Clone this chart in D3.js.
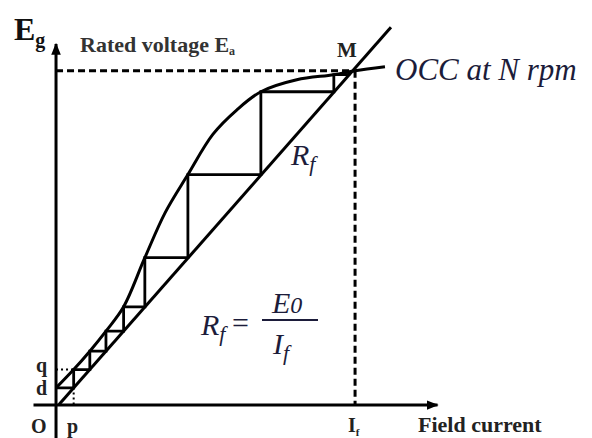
<!DOCTYPE html>
<html>
<head>
<meta charset="utf-8">
<script src="https://cdn.jsdelivr.net/npm/d3@7"></script>
<style>
  body { margin: 0; background: #fff; }
  svg { display: block; }
  text { font-family: "Liberation Serif", "DejaVu Serif", serif; }
</style>
</head>
<body>
<div id="chart"></div>
<script>
// open circuit characteristic (field current, generated voltage)
const occCurrent = [0, 0.59, 1.13, 1.67, 2.26, 2.97, 3.65, 4.41, 5.25, 6.05, 6.85, 8.05, 9.29, 10.0, 11.0];
const occVoltage = [0.50, 1.05, 1.60, 2.20, 2.93, 4.40, 5.75, 6.89, 8.10, 8.83, 9.37, 9.73, 9.88, 10.0, 10.12];
// field resistance line
const rfCurrent = [0.10, 11.20];
const rfVoltage = [0, 11.30];
// build-up staircase
const stepLevels = [0.50, 1.05, 1.60, 2.20, 2.93, 4.40, 6.89, 9.37, 9.88, 9.97];
const stepCurrents = [0.59, 1.13, 1.67, 2.26, 2.97, 4.41, 6.85, 9.29, 9.79];
const ratedVoltage = 10;
const ratedCurrent = 10;

const width = 592, height = 438;
const ink = "#1c1c3a";
const svg = d3.select("#chart").append("svg")
  .attr("width", width)
  .attr("height", height);

const x = d3.scaleLinear().domain([-0.77, 12.74]).range([33, 437]);
const y = d3.scaleLinear().domain([-1.0, 10.8]).range([438, 44]);

svg.append("defs").append("marker")
  .attr("id", "arrow")
  .attr("viewBox", "0 0 10 10")
  .attr("refX", 9).attr("refY", 5)
  .attr("markerWidth", 4).attr("markerHeight", 4)
  .attr("markerUnits", "strokeWidth")
  .attr("orient", "auto")
  .append("path")
  .attr("d", "M0,1L10,5L0,9z")
  .attr("fill", "#000");

// axes
const xAxis = svg.append("g")
  .attr("transform", `translate(0,${y(0)})`)
  .call(d3.axisBottom(x).tickValues([]).tickSizeOuter(0));
const yAxis = svg.append("g")
  .attr("transform", `translate(${x(0)},0)`)
  .call(d3.axisLeft(y).tickValues([]).tickSizeOuter(0));
svg.selectAll("path.domain")
  .attr("stroke", "#000")
  .attr("stroke-width", 3);
xAxis.select("path.domain").attr("marker-end", "url(#arrow)");
// y axis arrow points up: redraw domain from bottom to top
yAxis.select("path.domain")
  .attr("d", `M0,${y.range()[0]}V${y.range()[1]}`)
  .attr("marker-end", "url(#arrow)");

const line = d3.line().x(d => x(d[0])).y(d => y(d[1]));

// dashed rated lines
[[[0, ratedVoltage], [ratedCurrent, ratedVoltage]],
 [[ratedCurrent, ratedVoltage], [ratedCurrent, 0]]].forEach(seg => {
  svg.append("path")
    .attr("d", line(seg))
    .attr("fill", "none").attr("stroke", "#000")
    .attr("stroke-width", 3).attr("stroke-dasharray", "7,4");
});

// small dotted guides for q and p
svg.append("path")
  .attr("d", line([[0, stepLevels[1]], [stepCurrents[0], stepLevels[1]]]))
  .attr("fill", "none").attr("stroke", "#000")
  .attr("stroke-width", 2).attr("stroke-dasharray", "2,3");
svg.append("path")
  .attr("d", line([[stepCurrents[0], 0], [stepCurrents[0], stepLevels[0]]]))
  .attr("fill", "none").attr("stroke", "#000")
  .attr("stroke-width", 2).attr("stroke-dasharray", "2,3");

// OCC curve
const occ = occCurrent.map((c, i) => [c, occVoltage[i]]);
svg.append("path")
  .attr("d", d3.line().x(d => x(d[0])).y(d => y(d[1])).curve(d3.curveCatmullRom.alpha(0.5))(occ))
  .attr("fill", "none").attr("stroke", "#000")
  .attr("stroke-width", 3);

// Rf line
svg.append("path")
  .attr("d", line(rfCurrent.map((c, i) => [c, rfVoltage[i]])))
  .attr("fill", "none").attr("stroke", "#000")
  .attr("stroke-width", 3);

// staircase
const stairs = [[0, stepLevels[0]]];
stepCurrents.forEach((c, k) => {
  stairs.push([c, stepLevels[k]]);
  stairs.push([c, stepLevels[k + 1]]);
});
svg.append("path")
  .attr("d", line(stairs))
  .attr("fill", "none").attr("stroke", "#000")
  .attr("stroke-width", 2.8)
  .attr("stroke-linejoin", "miter");

// labels
const eg = svg.append("text").attr("x", 14).attr("y", 40)
  .attr("font-weight", "bold").attr("font-size", 32).attr("fill", "#111");
eg.append("tspan").text("E");
eg.append("tspan").attr("font-size", 20).attr("dy", 7).text("g");

const rated = svg.append("text").attr("x", 80).attr("y", 52)
  .attr("font-weight", "bold").attr("font-size", 22).attr("fill", "#333");
rated.append("tspan").text("Rated voltage E");
rated.append("tspan").attr("font-size", 12).attr("dy", 3).text("a");

svg.append("text").attr("x", x(ratedCurrent) - 18).attr("y", 57)
  .attr("font-weight", "bold").attr("font-size", 21).attr("fill", "#222")
  .text("M");

const italic = (tx, ty, size) => svg.append("text")
  .attr("x", tx).attr("y", ty)
  .attr("font-style", "italic").attr("font-size", size).attr("fill", ink);

italic(395, 80, 31).text("OCC at N rpm");

const rf = italic(291, 165, 30);
rf.append("tspan").text("R");
rf.append("tspan").attr("font-size", 22).attr("dy", 6).text("f");

// formula Rf = E0 / If
const f1 = italic(201, 335, 30);
f1.append("tspan").text("R");
f1.append("tspan").attr("font-size", 22).attr("dy", 6).text("f");
svg.append("text").attr("x", 232).attr("y", 333)
  .attr("font-size", 30).attr("fill", ink).text("=");
svg.append("line")
  .attr("x1", 262).attr("x2", 318).attr("y1", 320).attr("y2", 320)
  .attr("stroke", ink).attr("stroke-width", 2);
const f2 = italic(272, 313, 30);
f2.append("tspan").text("E");
f2.append("tspan").attr("font-size", 24).text("0");
const f3 = italic(273, 354, 30);
f3.append("tspan").text("I");
f3.append("tspan").attr("font-size", 22).attr("dy", 6).text("f");

// axis point labels
const small = (tx, ty, s) => svg.append("text").attr("x", tx).attr("y", ty)
  .attr("font-weight", "bold").attr("font-size", 20).attr("fill", "#222").text(s);
small(31, 433, "O");
small(67, 433, "p");
small(36, y(stepLevels[1]) + 2, "q");
small(36, y(stepLevels[0]) + 7, "d");

const ifl = svg.append("text").attr("x", x(ratedCurrent) - 7).attr("y", 432)
  .attr("font-weight", "bold").attr("font-size", 20).attr("fill", "#222");
ifl.append("tspan").text("I");
ifl.append("tspan").attr("font-size", 11).attr("dy", 4).text("f");

svg.append("text").attr("x", 418).attr("y", 432)
  .attr("font-weight", "bold").attr("font-size", 22).attr("fill", "#222")
  .text("Field current");
</script>
</body>
</html>
